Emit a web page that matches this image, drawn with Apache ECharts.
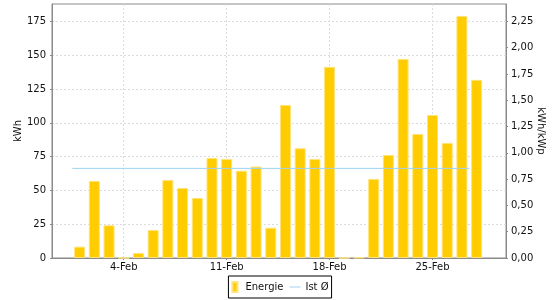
<!DOCTYPE html>
<html><head><meta charset="utf-8">
<script src="https://cdn.jsdelivr.net/npm/echarts@6/dist/echarts.min.js"></script>
<style>html,body{margin:0;padding:0;background:#fff}#c{width:560px;height:300px}</style>
</head><body><div id="c"></div>
<script>
// Day of month (February) for each bar
const days = [1,2,3,4,5,6,7,8,9,10,11,12,13,14,15,16,17,18,19,20,21,22,23,24,25,26,27,28];
// Energie in kWh
const energie = [8.4,57,24.2,0,3.7,20.7,57.7,51.8,44.4,74,73.3,64.6,67.6,22.4,113.2,81.2,73.3,141.4,0,0.3,58.5,76.2,147.3,91.8,105.8,85.1,179.1,131.8];
// Ist Ø average line (start/end day, value in kWh)
const avgDays = [0.5, 27.5];
const avgValue = 66.3;
// Tick labels
const xTickDays = [4, 11, 18, 25];
const xTickLabels = ['4-Feb', '11-Feb', '18-Feb', '25-Feb'];
const kwhTicks = [0, 25, 50, 75, 100, 125, 150, 175];
const kwpTicks = [0, 0.25, 0.5, 0.75, 1, 1.25, 1.5, 1.75, 2, 2.25];
const kWp = 175 / 2.25;

const FONT = 'DejaVu Sans';
const TXT = '#111';
const AX = '#8a8a8a';
const kwhMax = 187.9;

const chart = echarts.init(document.getElementById('c'), null, {renderer: 'canvas'});
chart.setOption({
  animation: false,
  backgroundColor: '#fff',
  textStyle: {fontFamily: FONT, fontSize: 10, color: TXT},
  grid: {left: 52, right: 54, top: 4, bottom: 42, show: true, borderColor: AX, borderWidth: 1, backgroundColor: 'transparent', containLabel: false, outerBoundsMode: 'none'},
  legend: {
    bottom: 2, left: 'center', itemWidth: 11, itemHeight: 10, itemGap: 6,
    padding: [5, 3, 5, 3], borderColor: '#000', borderWidth: 1, borderRadius: 0,
    symbolKeepAspect: true,
    textStyle: {fontFamily: FONT, fontSize: 10, color: TXT},
    data: [{name: 'Energie', icon: 'path://M0,0h5v10h-5z'}, {name: 'Ist Ø', icon: 'path://M0,0h11v1h-11z'}]
  },
  xAxis: {
    type: 'value', min: -0.88, max: 30.0,
    axisLine: {show: true, onZero: false, lineStyle: {color: AX}},
    axisTick: {show: true, length: 2, customValues: xTickDays, lineStyle: {color: AX}},
    axisLabel: {customValues: xTickDays, margin: 4, fontFamily: FONT, fontSize: 10, color: TXT,
      formatter: v => { const i = xTickDays.indexOf(v); return i >= 0 ? xTickLabels[i] : ''; }},
    splitLine: {show: true, lineStyle: {color: '#dcdcdc', type: [2, 2], width: 1}}
  },
  yAxis: [{
    type: 'value', min: 0, max: kwhMax, name: 'kWh', nameLocation: 'middle', nameGap: 29, nameMoveOverlap: false,
    nameTextStyle: {fontFamily: FONT, fontSize: 10, color: TXT},
    axisLine: {show: true, onZero: false, lineStyle: {color: AX}},
    axisTick: {show: true, length: 2, customValues: kwhTicks, lineStyle: {color: AX}},
    axisLabel: {customValues: kwhTicks, margin: 6, fontFamily: FONT, fontSize: 10, color: TXT},
    splitLine: {show: true, lineStyle: {color: '#dcdcdc', type: [2, 2], width: 1}}
  }, {
    type: 'value', min: 0, max: kwhMax / kWp, position: 'right', name: 'kWh/kWp', nameLocation: 'middle', nameGap: 30, nameRotate: -90, nameMoveOverlap: false,
    nameTextStyle: {fontFamily: FONT, fontSize: 10, color: TXT},
    axisLine: {show: true, onZero: false, lineStyle: {color: AX}},
    axisTick: {show: true, length: 2, customValues: kwpTicks, lineStyle: {color: AX}},
    axisLabel: {customValues: kwpTicks, margin: 5, fontFamily: FONT, fontSize: 10, color: TXT,
      formatter: v => v.toFixed(2).replace('.', ',')},
    splitLine: {show: false}
  }],
  series: [{
    name: 'Energie', type: 'bar', xAxisIndex: 0, yAxisIndex: 0, barWidth: 11,
    itemStyle: {color: '#ffcc00', borderColor: '#ffe37a', borderWidth: 1},
    data: days.map((d, i) => [d, energie[i]])
  }, {
    name: 'Ist Ø', type: 'line', xAxisIndex: 0, yAxisIndex: 0, symbol: 'none',
    lineStyle: {color: '#9fd3f2', width: 1}, itemStyle: {color: '#9fd3f2'},
    data: avgDays.map(d => [d, avgValue]), z: 3
  }]
});
</script>
</body></html>
